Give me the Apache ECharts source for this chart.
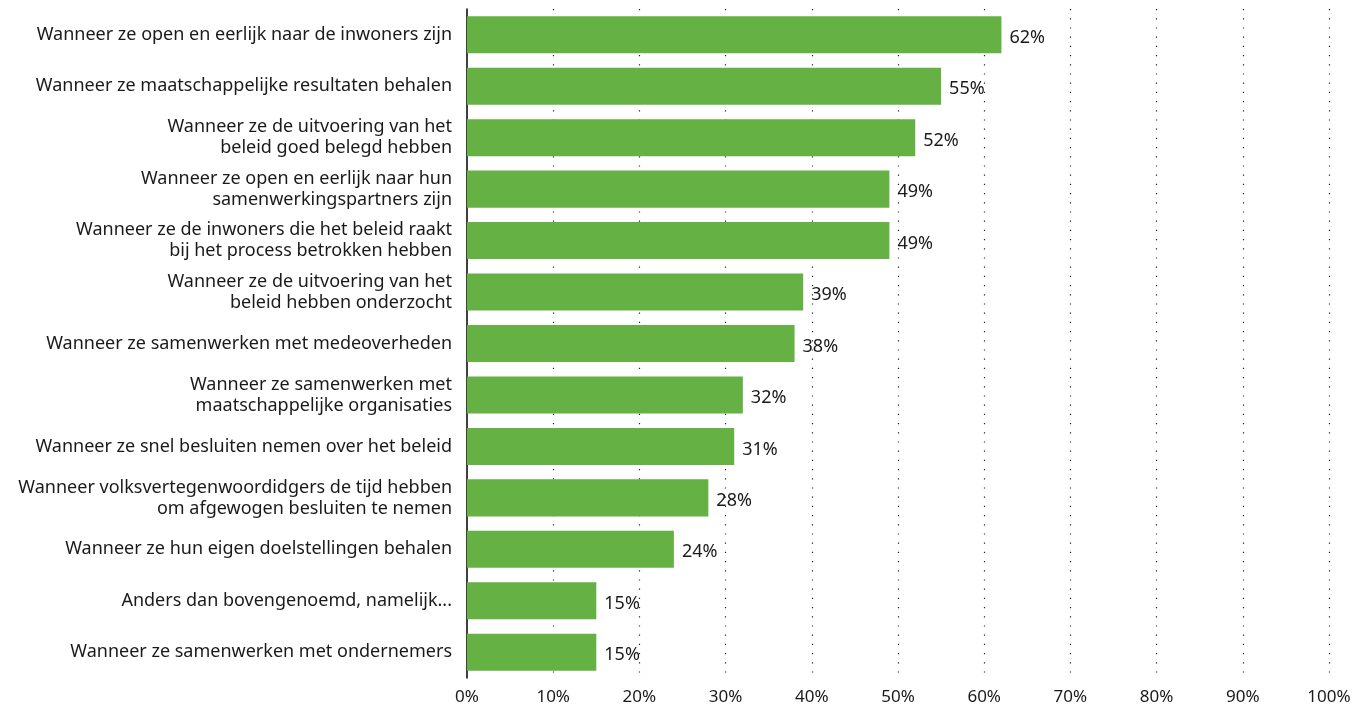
<!DOCTYPE html>
<html>
<head>
<meta charset="utf-8">
<script src="https://cdn.jsdelivr.net/npm/echarts@6/dist/echarts.min.js"></script>
<style>
  html, body { margin: 0; padding: 0; background: #fff; }
  #chart { width: 1356px; height: 706px; }
</style>
</head>
<body>
<div id="chart"></div>
<script>
// Statements, listed top to bottom
const categories = [
  'Wanneer ze open en eerlijk naar de inwoners zijn',
  'Wanneer ze maatschappelijke resultaten behalen',
  'Wanneer ze de uitvoering van het\nbeleid goed belegd hebben',
  'Wanneer ze open en eerlijk naar hun\nsamenwerkingspartners zijn',
  'Wanneer ze de inwoners die het beleid raakt\nbij het process betrokken hebben',
  'Wanneer ze de uitvoering van het\nbeleid hebben onderzocht',
  'Wanneer ze samenwerken met medeoverheden',
  'Wanneer ze samenwerken met\nmaatschappelijke organisaties',
  'Wanneer ze snel besluiten nemen over het beleid',
  'Wanneer volksvertegenwoordidgers de tijd hebben\nom afgewogen besluiten te nemen',
  'Wanneer ze hun eigen doelstellingen behalen',
  'Anders dan bovengenoemd, namelijk...',
  'Wanneer ze samenwerken met ondernemers'
];
// Share of respondents (%)
const values = [62, 55, 52, 49, 49, 39, 38, 32, 31, 28, 24, 15, 15];
const xTicks = [0, 10, 20, 30, 40, 50, 60, 70, 80, 90, 100];

const FONT = '"Noto Sans", sans-serif';
const chart = echarts.init(document.getElementById('chart'));
chart.setOption({
  animation: false,
  grid: { left: 467, right: 27, top: 9, bottom: 28, containLabel: false },
  xAxis: {
    type: 'value',
    min: xTicks[0],
    max: xTicks[xTicks.length - 1],
    interval: 10,
    axisLine: { show: false },
    axisTick: { show: false },
    axisLabel: {
      formatter: v => v + '%',
      color: '#1a1a1a',
      fontFamily: FONT,
      fontSize: 17,
      margin: 11
    },
    splitLine: {
      show: true,
      showMinLine: false,
      lineStyle: { color: '#222', width: 1.2, type: [1.2, 8] }
    }
  },
  yAxis: {
    type: 'category',
    inverse: true,
    data: categories,
    axisLine: { show: true, lineStyle: { color: '#000', width: 1.5 } },
    axisTick: { show: false },
    axisLabel: {
      color: '#1a1a1a',
      fontFamily: FONT,
      fontSize: 18,
      lineHeight: 21,
      align: 'right',
      margin: 15
    }
  },
  series: [{
    type: 'bar',
    data: values,
    barCategoryGap: '28%',
    itemStyle: { color: '#65b143' },
    label: {
      show: true,
      position: 'right',
      distance: 8,
      offset: [0, 3],
      formatter: p => p.value + '%',
      color: '#1a1a1a',
      fontFamily: FONT,
      fontSize: 18
    }
  }]
});
</script>
</body>
</html>
